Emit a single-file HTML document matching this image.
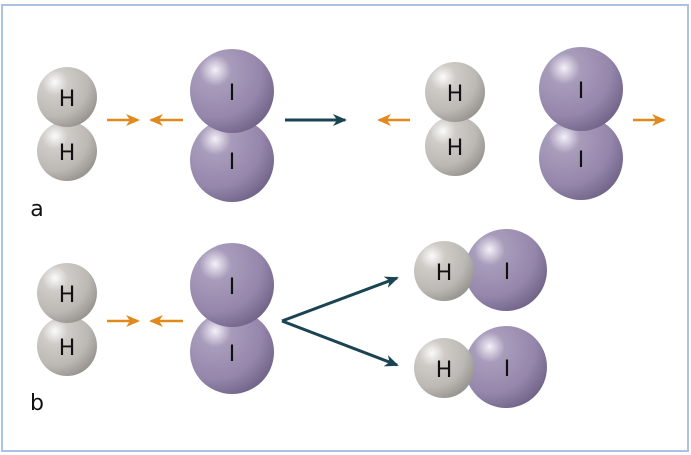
<!DOCTYPE html>
<html><head><style>
body{margin:0;background:#fff;}
svg{display:block;}
text{font-family:"DejaVu Sans","Liberation Sans",sans-serif;font-size:22px;fill:#111;text-anchor:middle;}
</style></head><body>
<svg width="691" height="455" viewBox="0 0 691 455">
<defs>
<radialGradient id="g" cx="0.3" cy="0.28" r="0.85" fx="0.3" fy="0.25">
<stop offset="0" stop-color="#fbfbfa"/><stop offset="0.25" stop-color="#cfccc8"/><stop offset="0.65" stop-color="#bcb9b5"/><stop offset="1" stop-color="#8e8b87"/></radialGradient>
<radialGradient id="p" cx="0.3" cy="0.28" r="0.85" fx="0.3" fy="0.25">
<stop offset="0" stop-color="#f4f0f8"/><stop offset="0.22" stop-color="#a89cbb"/><stop offset="0.65" stop-color="#9586ab"/><stop offset="1" stop-color="#6a5c80"/></radialGradient>
<marker id="ao" markerWidth="14" markerHeight="14" refX="12" refY="7" orient="auto" markerUnits="userSpaceOnUse"><path d="M0,1 L14,7 L0,13 L4,7z" fill="#e08a1e"/></marker>
<marker id="ad" markerWidth="14" markerHeight="12" refX="12" refY="6" orient="auto" markerUnits="userSpaceOnUse"><path d="M0,0 L14,6 L0,12 L4,6z" fill="#1b4452"/></marker>
</defs>
<rect x="2" y="5" width="686" height="446" fill="none" stroke="#aac2e6" stroke-width="2"/>
<g stroke="#e08a1e" stroke-width="2.5" marker-end="url(#ao)">
<line x1="107" y1="120" x2="138" y2="120"/><line x1="183" y1="120" x2="151" y2="120"/>
<line x1="410" y1="120" x2="379" y2="120"/><line x1="633" y1="120" x2="664" y2="120"/>
<line x1="107" y1="321" x2="138" y2="321"/><line x1="183" y1="321" x2="151" y2="321"/>
</g>
<g stroke="#1b4452" stroke-width="3" marker-end="url(#ad)" fill="none">
<line x1="285" y1="120" x2="345" y2="120"/>
<line x1="282" y1="321" x2="397" y2="278"/><line x1="282" y1="321" x2="397" y2="365"/>
</g>
<circle cx="67" cy="151" r="30" fill="url(#g)"/><circle cx="67" cy="97" r="30" fill="url(#g)"/>
<circle cx="232" cy="160" r="42" fill="url(#p)"/><circle cx="232" cy="91" r="42" fill="url(#p)"/>
<circle cx="455" cy="146" r="30" fill="url(#g)"/><circle cx="455" cy="92" r="30" fill="url(#g)"/>
<circle cx="581" cy="158" r="42" fill="url(#p)"/><circle cx="581" cy="89" r="42" fill="url(#p)"/>
<text x="67" y="106">H</text><text x="67" y="160">H</text>
<text x="232" y="100">I</text><text x="232" y="169">I</text>
<text x="455" y="101">H</text><text x="455" y="155">H</text>
<text x="581" y="98">I</text><text x="581" y="167">I</text>
<text x="37" y="216">a</text>
<circle cx="67" cy="346" r="30" fill="url(#g)"/><circle cx="67" cy="293" r="30" fill="url(#g)"/>
<circle cx="232" cy="352" r="42" fill="url(#p)"/><circle cx="232" cy="285" r="42" fill="url(#p)"/>
<text x="67" y="302">H</text><text x="67" y="355">H</text>
<text x="232" y="294">I</text><text x="232" y="361">I</text>
<circle cx="506" cy="270" r="41" fill="url(#p)"/><circle cx="444" cy="271" r="30" fill="url(#g)"/>
<circle cx="506" cy="367" r="41" fill="url(#p)"/><circle cx="444" cy="368" r="30" fill="url(#g)"/>
<text x="444" y="280">H</text><text x="507" y="279">I</text>
<text x="444" y="377">H</text><text x="507" y="376">I</text>
<text x="37" y="410">b</text>
</svg>
</body></html>
